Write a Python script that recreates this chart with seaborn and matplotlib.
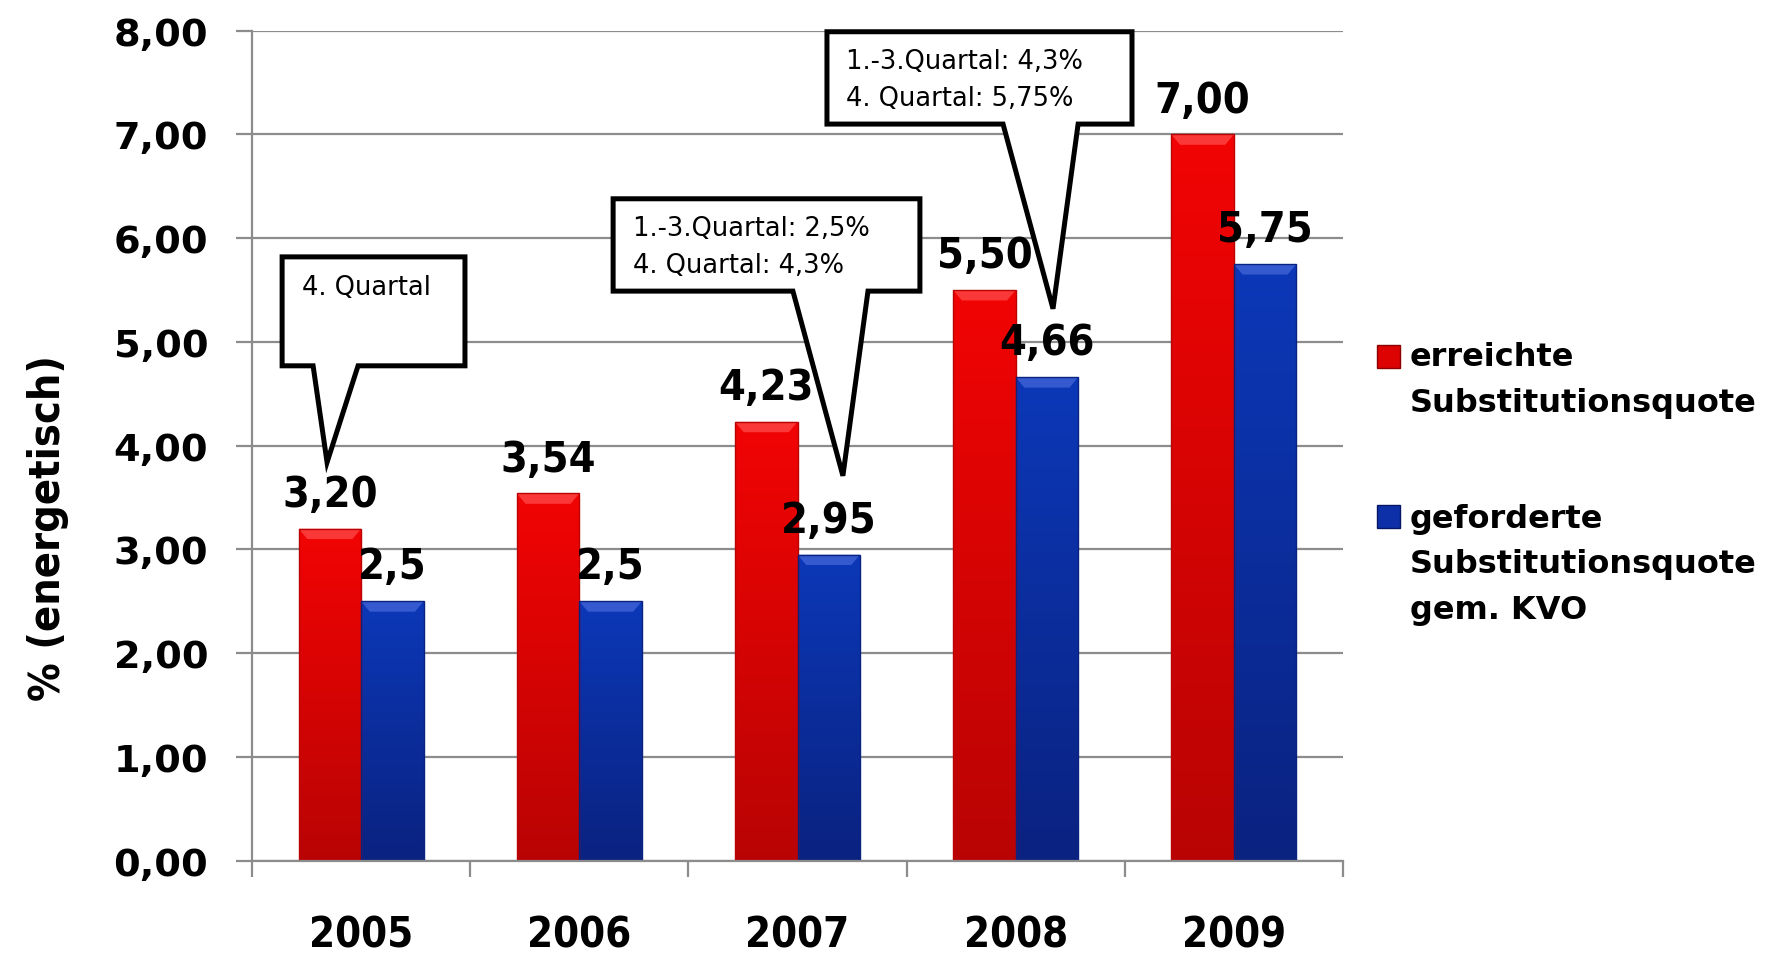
import numpy as np
import pandas as pd
import matplotlib
matplotlib.use("Agg")
import matplotlib.pyplot as plt
import seaborn as sns
from matplotlib.patches import Polygon, Rectangle
from matplotlib.legend_handler import HandlerBase
from matplotlib.colors import LinearSegmentedColormap

# ---- data -------------------------------------------------------------
years = ["2005", "2006", "2007", "2008", "2009"]
achieved = [3.20, 3.54, 4.23, 5.50, 7.00]
required = [2.5, 2.5, 2.95, 4.66, 5.75]
series_names = ["erreichte\nSubstitutionsquote",
                "geforderte\nSubstitutionsquote\ngem. KVO"]
y_ticks = [0, 1, 2, 3, 4, 5, 6, 7, 8]
y_label = "% (energetisch)"

# speech-bubble notes: text, box (left, right, bottom, top), tail (base left, base right, tip x, tip y)
note_texts = ["4. Quartal",
              "1.-3.Quartal: 2,5%\n4. Quartal: 4,3%",
              "1.-3.Quartal: 4,3%\n4. Quartal: 5,75%"]
note_boxes = [(-0.362, 0.476, 4.77, 5.82),
              (1.155, 2.561, 5.49, 6.38),
              (2.135, 3.533, 7.10, 7.99)]
note_tails = [(-0.220, -0.014, -0.156, 3.84),
              (1.979, 2.323, 2.208, 3.71),
              (2.942, 3.286, 3.171, 5.32)]

# ---- style ------------------------------------------------------------
sns.set_style("white")
plt.rcParams["font.family"] = ["DejaVu Sans"]
plt.rcParams["text.color"] = "black"
plt.rcParams["axes.labelcolor"] = "black"

RED_TOP, RED_BOT, RED_BEVEL = "#f20404", "#b90303", "#ff4a4a"
BLUE_TOP, BLUE_BOT, BLUE_BEVEL = "#0c38b8", "#0a2280", "#4466d8"
GRID = "#8c8c8c"

fig = plt.figure(figsize=(17.73, 9.54), dpi=100)
ax = fig.add_axes([252 / 1773, 1 - 861.7 / 954, (1343 - 252) / 1773, (861.7 - 31.7) / 954])

df = pd.DataFrame({
    "Jahr": years * 2,
    "Wert": achieved + required,
    "Reihe": [series_names[0]] * len(years) + [series_names[1]] * len(years),
})
sns.barplot(data=df, x="Jahr", y="Wert", hue="Reihe",
            palette=[RED_TOP, BLUE_TOP], saturation=1, width=0.573,
            legend=False, ax=ax, zorder=2, linewidth=0)

ax.set_xlim(-0.5, 4.5)
ax.set_ylim(0, 8)


def shade_bar(patch, top, bottom, bevel):
    x, y = patch.get_x(), patch.get_y()
    w, h = patch.get_width(), patch.get_height()
    cmap = LinearSegmentedColormap.from_list("bar", [bottom, top])
    grad = np.linspace(0, 1, 256).reshape(-1, 1)
    im = ax.imshow(grad, extent=[x, x + w, y, y + h], origin="lower",
                   cmap=cmap, aspect="auto", zorder=2.1, interpolation="bicubic")
    im.set_clip_path(patch)
    bw, bh = 0.04, 0.1
    ax.add_patch(Polygon([(x, y + h), (x + w, y + h), (x + w - bw, y + h - bh),
                          (x + bw, y + h - bh)], closed=True, facecolor=bevel,
                         edgecolor="none", alpha=0.75, zorder=2.2))
    ax.add_patch(Polygon([(x, y), (x + w, y), (x + w - bw, y + bh), (x + bw, y + bh)],
                         closed=True, facecolor=bottom, edgecolor="none",
                         alpha=0.8, zorder=2.2))
    ax.add_patch(Rectangle((x, y), w, h, facecolor="none", edgecolor=bottom,
                           linewidth=1.0, zorder=2.3))


for cont, (top, bot, bev) in zip(ax.containers, [(RED_TOP, RED_BOT, RED_BEVEL),
                                                 (BLUE_TOP, BLUE_BOT, BLUE_BEVEL)]):
    for bar in cont:
        shade_bar(bar, top, bot, bev)

ax.set_xlim(-0.5, 4.5)
ax.set_ylim(0, 8)

# ---- axes / grid -------------------------------------------------------
for s in ("top", "right"):
    ax.spines[s].set_visible(False)
for s in ("left", "bottom"):
    ax.spines[s].set_color(GRID)
    ax.spines[s].set_linewidth(1.6)
ax.yaxis.grid(True, color=GRID, linewidth=1.6, zorder=0)
ax.xaxis.grid(False)
ax.set_axisbelow(True)

ax.set_yticks(y_ticks)
ax.set_yticklabels([f"{t:.2f}".replace(".", ",") for t in y_ticks],
                   fontsize=27.5, fontweight="bold")
ax.tick_params(axis="y", length=11.5, width=1.6, color=GRID, pad=20, left=True,
               labelcolor="black")

ax.set_xticks(range(len(years)))
ax.set_xticklabels(years, fontsize=30, fontweight="bold", fontstretch="condensed")
ax.set_xticks([i - 0.5 for i in range(len(years) + 1)], minor=True)
ax.tick_params(axis="x", which="major", length=0, pad=38, labelcolor="black")
ax.tick_params(axis="x", which="minor", length=11.5, width=1.6, color=GRID, bottom=True)
ax.set_xlabel("")

ax.set_ylabel(y_label, fontsize=31, fontweight="bold", fontstretch="condensed")
ax.yaxis.set_label_coords(-0.168, 0.402)

# ---- value labels ------------------------------------------------------
def fmt_fixed(v):
    return f"{v:.2f}".replace(".", ",")


def fmt_short(v):
    return f"{v:g}".replace(".", ",")


for cont, vals, fmt in zip(ax.containers, [achieved, required], [fmt_fixed, fmt_short]):
    for bar, v in zip(cont, vals):
        ax.annotate(fmt(v), (bar.get_x() + bar.get_width() / 2, v),
                    xytext=(0, 16.5), textcoords="offset points",
                    ha="center", va="baseline", fontsize=31, fontweight="bold",
                    fontstretch="condensed", color="black", zorder=6)

# ---- speech bubbles ------------------------------------------------------
for text, (x0, x1, yb, yt), (bx0, bx1, tx, ty) in zip(note_texts, note_boxes, note_tails):
    bubble = Polygon([(x0, yt), (x1, yt), (x1, yb), (bx1, yb), (tx, ty),
                      (bx0, yb), (x0, yb)], closed=True, facecolor="white",
                     edgecolor="black", linewidth=3.6, joinstyle="miter",
                     zorder=5, clip_on=False)
    ax.add_patch(bubble)
    ax.annotate(text, (x0, yt), xytext=(14, -12), textcoords="offset points",
                ha="left", va="top", fontsize=18.5, linespacing=1.55,
                color="black", zorder=6)

# ---- legend --------------------------------------------------------------
class LiftedSquare(HandlerBase):
    """Square handle aligned with the first line of a multi-line label."""

    def __init__(self, color, edge, lines, pitch=34.5, **kw):
        super().__init__(**kw)
        self.color, self.edge, self.lines, self.pitch = color, edge, lines, pitch

    def create_artists(self, legend, orig_handle, xdescent, ydescent,
                       width, height, fontsize, trans):
        s = 16.5
        lift = (self.lines - 1) / 2 * self.pitch
        r = Rectangle((-xdescent, -ydescent + (height - s) / 2 + lift), s, s,
                      facecolor=self.color, edgecolor=self.edge, linewidth=1.0,
                      transform=trans)
        return [r]


h_red = Rectangle((0, 0), 1, 1, color=RED_TOP)
h_blue = Rectangle((0, 0), 1, 1, color=BLUE_TOP)
leg = ax.legend([h_red, h_blue], series_names,
                handler_map={h_red: LiftedSquare("#dd0303", "#8a0202", 2),
                             h_blue: LiftedSquare("#0d30a8", "#061766", 3)},
                loc="upper left", bbox_to_anchor=(1377 / 1773, 1 - 342 / 954),
                bbox_transform=fig.transFigure, frameon=False, borderpad=0,
                borderaxespad=0, handlelength=0.72, handleheight=0.72,
                handletextpad=0.3, labelspacing=2.65,
                prop={"size": 23, "weight": "bold"})
for t in leg.get_texts():
    t.set_linespacing(1.62)
    t.set_color("black")

fig.savefig("out.png", dpi=100, facecolor="white")
